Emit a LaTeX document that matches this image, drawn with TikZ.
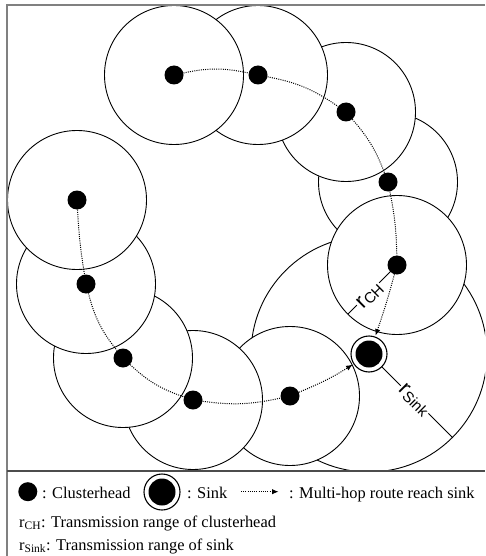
\documentclass[tikz,border=0pt]{standalone}
\usepackage{fontspec}
\setmainfont{Liberation Serif}
\newfontfamily\labelfont{Liberation Sans}
\usetikzlibrary{arrows.meta}
\begin{document}
\begin{tikzpicture}[x=1pt,y=-1pt,
  rng/.style={draw=black, line width=0.9pt, fill=white},
  chdot/.style={circle, fill=black, inner sep=0pt, minimum size=19pt},
  sinkring/.style={circle, draw=black, line width=1.1pt, fill=white, inner sep=0pt, minimum size=36pt},
  sinkcore/.style={circle, fill=black, inner sep=0pt, minimum size=27pt},
  route/.style={line width=1pt, dash pattern=on 1pt off 1.2pt},
  routearr/.style={route, -{Latex[length=6.5pt,width=5.5pt]}, shorten >=1pt},
  radline/.style={line width=0.9pt, draw=black},
  radlabel/.style={fill=white, inner sep=1.2pt, font=\labelfont},
  framel/.style={draw=black!50, line width=1.4pt},
  legtext/.style={font=\fontsize{16.4pt}{19pt}\selectfont, inner sep=0pt}
]
\useasboundingbox (0,0) rectangle (485,556);

% positions
\coordinate (A) at (174,75);
\coordinate (B) at (258,75);
\coordinate (C) at (346,112);
\coordinate (D) at (388,182);
\coordinate (E) at (397,265);
\coordinate (F) at (77,200);
\coordinate (G) at (86,284);
\coordinate (H) at (123,358);
\coordinate (I) at (193,400);
\coordinate (J) at (290,396);
\coordinate (S) at (369,354);
\coordinate (rch) at (348,314);
\coordinate (rsk) at (452.4,437.4);

% transmission ranges
\begin{scope}
  \clip (7,5) rectangle (485,471);
  \draw[rng] (S) circle (118pt);
  \draw[rng] (D) circle (69.5pt);
  \draw[rng] (C) circle (69.5pt);
  \draw[rng] (B) circle (69.5pt);
  \draw[rng] (A) circle (69.5pt);
  \draw[rng] (E) circle (69.5pt);
  \draw[rng] (J) circle (69.5pt);
  \draw[rng] (I) circle (69.5pt);
  \draw[rng] (H) circle (69.5pt);
  \draw[rng] (G) circle (69.5pt);
  \draw[rng] (F) circle (69.5pt);
\end{scope}

% frame
\draw[framel] (7,556) -- (7,5) -- (485,5);
\draw[draw=black!70, line width=1.3pt] (7,471) -- (485,471);

% radius lines and labels
\draw[radline] (E) -- (rch);
\draw[radline] (S) -- (rsk);
\node[radlabel, rotate=45] (lch) at (370,296)
  {{\fontsize{22pt}{22pt}\selectfont r}{\fontsize{15pt}{15pt}\selectfont\raisebox{-2pt}{CH}}};
\node[radlabel, rotate=-45] (lsk) at (414,400)
  {{\fontsize{22pt}{22pt}\selectfont r}{\fontsize{15pt}{15pt}\selectfont\raisebox{-2pt}{Sink}}};

% nodes
\node[chdot] (nA) at (A) {};
\node[chdot] (nB) at (B) {};
\node[chdot] (nC) at (C) {};
\node[chdot] (nD) at (D) {};
\node[chdot] (nE) at (E) {};
\node[chdot] (nF) at (F) {};
\node[chdot] (nG) at (G) {};
\node[chdot] (nH) at (H) {};
\node[chdot] (nI) at (I) {};
\node[chdot] (nJ) at (J) {};
\node[sinkring] (nS) at (S) {};
\node[sinkcore] (nSc) at (S) {};

% routes
\draw[route] (nA) to[bend left=12] (nB);
\draw[route] (nB) to[bend left=12] (nC);
\draw[route] (nC) to[bend left=10] (nD);
\draw[route] (nD) to[bend left=5] (nE);
\draw[routearr] (nE) to[bend left=2] (nS);
\draw[route] (nF) to[bend right=3] (nG);
\draw[route] (nG) to[bend right=12] (nH);
\draw[route] (nH) to[bend right=12] (nI);
\draw[route] (nI) to[bend right=10] (nJ);
\draw[routearr] (nJ) to[bend right=5] (nS);

% legend
\node[chdot] (lgch) at (27.8,491.7) {};
\node[legtext, anchor=base west] (lgcht) at (42,498) {: Clusterhead};
\node[sinkring] (lgs) at (162,492) {};
\node[sinkcore] (lgsc) at (162,492) {};
\node[legtext, anchor=base west] (lgst) at (187,498) {: Sink};
\coordinate (lga) at (241,491.7);
\coordinate (lgb) at (278.5,491.7);
\draw[routearr, shorten >=0pt] (lga) -- (lgb);
\node[legtext, anchor=base west] (lgrt) at (289,498) {: Multi-hop route reach sink};
\node[legtext, anchor=base west] (lgr1) at (19,527) {r\textsubscript{CH}: Transmission range of clusterhead};
\node[legtext, anchor=base west] (lgr2) at (19,550) {r\textsubscript{Sink}: Transmission range of sink};
\end{tikzpicture}
\end{document}
